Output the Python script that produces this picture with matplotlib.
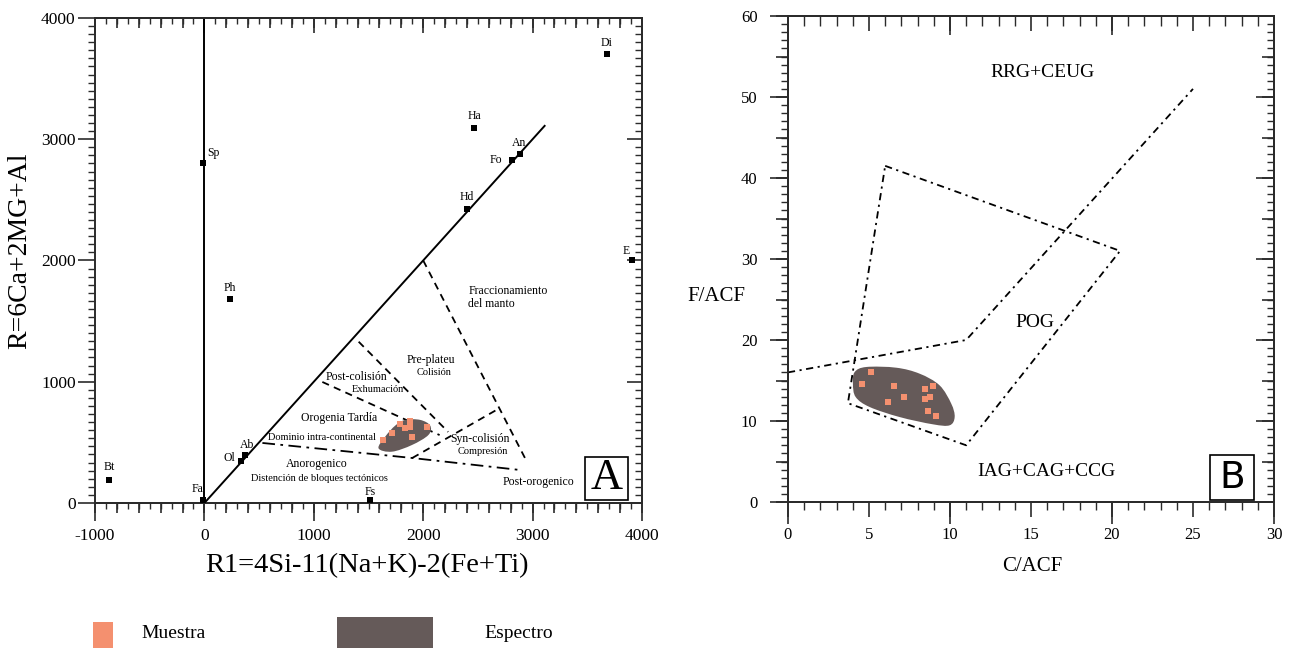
import numpy as np
import matplotlib
matplotlib.use('Agg')
import matplotlib.pyplot as plt
from matplotlib.path import Path
from matplotlib.patches import PathPatch, Rectangle
from matplotlib.ticker import MultipleLocator, NullFormatter, NullLocator

plt.rcParams['font.family'] = ['Liberation Serif', 'DejaVu Serif']
plt.rcParams['axes.unicode_minus'] = False

# --- R1-R2 diagram: mineral end-members ---
minerals = ['Bt', 'Fa', 'Sp', 'Ph', 'Ol', 'Ab', 'Fs', 'Hd', 'Fo', 'An', 'Ha', 'Di', 'E']
mineral_r1 = [-870, -10, -10, 230, 330, 375, 1515, 2400, 2815, 2885, 2465, 3680, 3910]
mineral_r2 = [190, 25, 2805, 1685, 345, 395, 25, 2425, 2830, 2880, 3095, 3705, 2000]
# label offsets in points
mineral_offsets = [(0, 9), (-4, 8), (7, 7), (0, 8), (-8, 2), (1, 7.5), (0, 6),
                   (0, 8.5), (-12, 0), (-1, 8), (0, 8.5), (0, 7.5), (-4, 7)]

# samples and their spectrum on R1-R2
sample_r1 = [1637, 1714, 1790, 1875, 1836, 1902, 2034, 1881]
sample_r2 = [520, 580, 652, 679, 616, 547, 629, 629]
spectrum_r1 = [1592, 1653, 1744, 1836, 1973, 2064, 2048, 1897, 1714]
spectrum_r2 = [451, 547, 638, 685, 685, 638, 561, 478, 423]

# field boundaries
bound_fracc = ([2000, 2932], [2000, 368])
bound_preplat = ([1410, 2228], [1330, 586])
bound_postcol = ([1078, 2150], [998, 560])
bound_anorog = ([530, 1900, 2886], [495, 371, 272])
bound_syncol = ([1900, 2685], [371, 775])

fields_a = [
    ('Fraccionamiento\ndel manto', 2414, 1695, 8.5, 'left'),
    ('Pre-plateu', 2070, 1179, 8.5, 'center'),
    ('Colisión', 2100, 1080, 7.5, 'center'),
    ('Post-colisión', 1388, 1037, 8.5, 'center'),
    ('Exhumación', 1586, 938, 7.5, 'center'),
    ('Orogenia Tardía', 1227, 704, 8.5, 'center'),
    ('Dominio intra-continental', 1078, 542, 7.5, 'center'),
    ('Syn-colisión', 2521, 528, 8.5, 'center'),
    ('Compresión', 2542, 423, 7.5, 'center'),
    ('Anorogenico', 1023, 322, 8.5, 'center'),
    ('Distención de bloques tectónicos', 1053, 203, 7.5, 'center'),
    ('Post-orogenico', 3053, 170, 8.5, 'center'),
]

# --- C/ACF vs F/ACF diagram ---
sample_c = [4.59, 5.14, 6.52, 6.15, 7.14, 8.48, 8.95, 8.48, 8.79, 8.64, 9.16]
sample_f = [14.53, 16.0, 14.36, 12.39, 12.96, 13.99, 14.36, 12.67, 13.0, 11.19, 10.66]
spectrum_c = [4.01, 4.12, 4.84, 6.69, 8.13, 9.36, 10.08, 10.29, 9.98, 8.95, 6.89, 5.04, 4.18]
spectrum_f = [14.6, 16.05, 16.67, 16.58, 15.84, 14.4, 12.14, 10.49, 9.47, 9.59, 10.49, 11.73, 12.96]
pog_c = [6, 20.5, 11, 3.7, 6]
pog_f = [41.5, 31, 7, 12.2, 41.5]
divide_c = [0, 11, 25]
divide_f = [16, 20, 51]
fields_b = [('RRG+CEUG', 15.74, 53.0), ('POG', 15.25, 22.1), ('IAG+CAG+CCG', 15.97, 3.74)]

ORANGE = '#f4906f'
SPECTRUM = '#655a59'
INK = '#2b2b2b'


def smooth_outline(xs, ys):
    p = np.column_stack([xs, ys]).astype(float)
    n = len(p)
    verts = [p[0]]
    codes = [Path.MOVETO]
    for i in range(n):
        p0, p1, p2, p3 = p[i - 1], p[i], p[(i + 1) % n], p[(i + 2) % n]
        verts += [p1 + (p2 - p0) / 6, p2 - (p3 - p1) / 6, p2]
        codes += [Path.CURVE4] * 3
    return Path(verts, codes)


def extra_ticks(ax, side, major, length, direction, minor=None, minor_len=0):
    if side in ('top', 'bottom'):
        sec = ax.secondary_xaxis(side)
        axis = sec.xaxis
    else:
        sec = ax.secondary_yaxis(side)
        axis = sec.yaxis
    axis.set_major_locator(MultipleLocator(major))
    axis.set_major_formatter(NullFormatter())
    if minor:
        axis.set_minor_locator(MultipleLocator(minor))
    else:
        axis.set_minor_locator(NullLocator())
    sec.tick_params(which='major', direction=direction, length=length, width=1.2, color=INK)
    sec.tick_params(which='minor', direction=direction, length=minor_len, width=1.0, color=INK)
    sec.spines[side].set_linewidth(1.4)
    sec.spines[side].set_color(INK)
    return sec


def style_axes(ax, labelsize):
    for s in ax.spines.values():
        s.set_linewidth(1.4)
        s.set_color(INK)
    ax.tick_params(which='both', top=False, right=False, color=INK, labelsize=labelsize,
                   direction='out')


fig = plt.figure(figsize=(12.93, 6.48), dpi=100)
ax1 = fig.add_axes([0.0735, 0.2238, 0.423, 0.7485])
ax2 = fig.add_axes([0.6094, 0.2253, 0.3759, 0.75])

# ---------- panel A ----------
ax1.set_xlim(-1000, 4000)
ax1.set_ylim(0, 4000)
style_axes(ax1, 12.5)
ax1.xaxis.set_major_locator(MultipleLocator(1000))
ax1.xaxis.set_minor_locator(MultipleLocator(100))
ax1.yaxis.set_major_locator(MultipleLocator(1000))
ax1.yaxis.set_minor_locator(MultipleLocator(1000 / 15))
ax1.tick_params(axis='x', which='major', length=13, width=1.2, pad=5)
ax1.tick_params(axis='x', which='minor', length=4, width=1.0)
ax1.tick_params(axis='y', which='major', length=12, width=1.2, pad=2)
ax1.tick_params(axis='y', which='minor', length=5, width=1.0)
extra_ticks(ax1, 'bottom', 200, 7, 'out')
extra_ticks(ax1, 'top', 1000, 11, 'in', 100, 4)
extra_ticks(ax1, 'top', 200, 7, 'in')
extra_ticks(ax1, 'right', 1000, 11, 'in', 1000 / 15, 5)

ax1.plot([0, 0], [0, 4000], color='black', lw=1.4)
ax1.plot([0, 3110], [0, 3110], color='black', lw=1.4)

dash = (0, (4, 3))
for bx, by in (bound_fracc, bound_preplat, bound_postcol, bound_syncol):
    ax1.plot(bx, by, color='black', lw=1.3, linestyle=dash)
ax1.plot(bound_anorog[0], bound_anorog[1], color='black', lw=1.3,
         linestyle=(0, (7, 3, 1.5, 3)))

ax1.add_patch(PathPatch(smooth_outline(spectrum_r1, spectrum_r2), facecolor=SPECTRUM,
                        edgecolor='none', zorder=3))
ax1.plot(sample_r1, sample_r2, 's', color=ORANGE, ms=4.5, mew=0, zorder=4)

ax1.plot(mineral_r1, mineral_r2, 's', color='black', ms=4.5, mew=0, clip_on=False, zorder=5)
for name, x, y, off in zip(minerals, mineral_r1, mineral_r2, mineral_offsets):
    ax1.annotate(name, (x, y), xytext=off, textcoords='offset points',
                 ha='center', va='center', fontsize=8.5)

for txt, x, y, fs, ha in fields_a:
    ax1.text(x, y, txt, fontsize=fs, ha=ha, va='center', multialignment='left',
             linespacing=1.15)

ax1.add_patch(Rectangle((0.896, 0.006), 0.078, 0.089, transform=ax1.transAxes,
                        facecolor='white', edgecolor='black', lw=1.2, zorder=6))
ax1.text(0.935, 0.052, 'A', transform=ax1.transAxes, fontsize=32, ha='center',
         va='center', zorder=7)

ax1.set_xlabel('R1=4Si-11(Na+K)-2(Fe+Ti)', fontsize=20.5, va='center')
ax1.xaxis.set_label_coords(0.497, -0.13)
ax1.set_ylabel('R=6Ca+2MG+Al', fontsize=20, va='center')
ax1.yaxis.set_label_coords(-0.137, 0.52)

# ---------- panel B ----------
ax2.set_xlim(0, 30)
ax2.set_ylim(0, 60)
style_axes(ax2, 12)
ax2.xaxis.set_major_locator(MultipleLocator(5))
ax2.xaxis.set_minor_locator(MultipleLocator(1))
ax2.yaxis.set_major_locator(MultipleLocator(10))
ax2.yaxis.set_minor_locator(MultipleLocator(1))
ax2.tick_params(axis='x', which='major', length=11, width=1.2, pad=7)
ax2.tick_params(axis='x', which='minor', length=6, width=1.0)
ax2.tick_params(axis='y', which='major', length=13, width=1.2, pad=9)
ax2.tick_params(axis='y', which='minor', length=5, width=1.0)
extra_ticks(ax2, 'bottom', 10, 16, 'out')
extra_ticks(ax2, 'left', 5, 9, 'out')
extra_ticks(ax2, 'top', 5, 11, 'in', 1, 7)
extra_ticks(ax2, 'top', 10, 14, 'in')
extra_ticks(ax2, 'right', 10, 13, 'in', 1, 5)
extra_ticks(ax2, 'right', 5, 9, 'in')

dashdot = (0, (4, 2.5, 1.2, 2.5))
ax2.plot(pog_c, pog_f, color='black', lw=1.3, linestyle=dashdot)
ax2.plot(divide_c, divide_f, color='black', lw=1.3, linestyle=dashdot)

ax2.add_patch(PathPatch(smooth_outline(spectrum_c, spectrum_f), facecolor=SPECTRUM,
                        edgecolor='none', zorder=3))
ax2.plot(sample_c, sample_f, 's', color=ORANGE, ms=4.2, mew=0, zorder=4)

for txt, x, y in fields_b:
    ax2.text(x, y, txt, fontsize=14, ha='center', va='center')

ax2.add_patch(Rectangle((0.868, 0.004), 0.091, 0.093, transform=ax2.transAxes,
                        facecolor='white', edgecolor='black', lw=1.2, zorder=6))
ax2.text(0.9135, 0.05, 'B', transform=ax2.transAxes, fontsize=27, ha='center',
         va='center', family='DejaVu Sans', zorder=7)

ax2.set_xlabel('C/ACF', fontsize=15, va='center')
ax2.xaxis.set_label_coords(0.502, -0.132)
ax2.set_ylabel('F/ACF', fontsize=15, rotation=0, va='center', ha='center')
ax2.yaxis.set_label_coords(-0.148, 0.422)

# ---------- legend ----------
fig.add_artist(Rectangle((0.0719, 0.0), 0.0155, 0.040, transform=fig.transFigure,
                         facecolor=ORANGE, edgecolor='none'))
fig.text(0.109, 0.022, 'Muestra', fontsize=14, va='center')
fig.add_artist(Rectangle((0.2606, 0.0), 0.0743, 0.048, transform=fig.transFigure,
                         facecolor=SPECTRUM, edgecolor='none'))
fig.text(0.3743, 0.022, 'Espectro', fontsize=14, va='center')

fig.savefig('out.png', dpi=100)
